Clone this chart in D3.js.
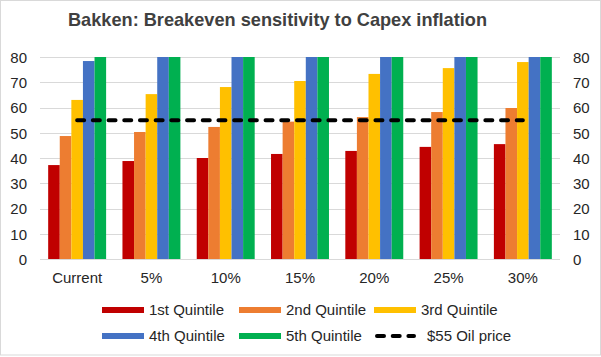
<!DOCTYPE html>
<html><head><meta charset="utf-8">
<script src="https://cdn.jsdelivr.net/npm/d3@7"></script>
<style>
html,body{margin:0;padding:0;background:#fff;}
svg{display:block;font-family:"Liberation Sans",Arial,sans-serif;}
</style></head>
<body><svg id="c" width="601" height="357"></svg>
<script>
const categories = ["Current","5%","10%","15%","20%","25%","30%"];
const seriesNames = ["1st Quintile","2nd Quintile","3rd Quintile","4th Quintile","5th Quintile"];
const q1 = [37.2, 38.8, 40.0, 41.6, 42.8, 44.4, 45.5];
const q2 = [48.7, 50.3, 52.3, 54.4, 56.2, 58.2, 59.8];
const q3 = [63.0, 65.3, 68.1, 70.5, 73.3, 75.6, 78.0];
const q4 = [78.4, 81.5, 84.5, 87.5, 90.5, 93.5, 96.5];
const q5 = [95, 99, 103, 107, 111, 115, 119];
const oilPrice = [55, 55, 55, 55, 55, 55, 55];
const oilName = "$55 Oil price";
const yTicks = [0,10,20,30,40,50,60,70,80];
const title = "Bakken: Breakeven sensitivity to Capex inflation";

const colors = ["#C00000","#ED7D31","#FFC000","#4472C4","#00B050"];
const series = [q1,q2,q3,q4,q5];

const svg = d3.select("#c");
const W = 601, H = 357;
svg.append("rect").attr("x",0.5).attr("y",0.5).attr("width",W-1).attr("height",H-2.5)
  .attr("fill","#fff").attr("stroke","#d9d9d9");

const L = 40, R = 560, T = 57, B = 259;
const x = d3.scaleBand().domain(categories).range([L,R]).paddingInner(0.22).paddingOuter(0.11);
const xs = d3.scaleBand().domain(d3.range(5)).range([0,x.bandwidth()]);
const y = d3.scaleLinear().domain([0,80]).range([B,T]).clamp(true);

// gridlines
svg.append("g").selectAll("line").data(yTicks).join("line")
  .attr("x1",L).attr("x2",R).attr("y1",d=>Math.round(y(d))+0.5).attr("y2",d=>Math.round(y(d))+0.5)
  .attr("stroke","#d9d9d9").attr("stroke-width",1);

// bars
series.forEach((s,i)=>{
  svg.append("g").selectAll("rect").data(s).join("rect")
    .attr("x",(d,j)=>x(categories[j])+xs(i))
    .attr("width",xs.bandwidth())
    .attr("y",d=>y(d))
    .attr("height",d=>y(0)-y(d))
    .attr("fill",colors[i]);
});

// oil line
const line = d3.line().x((d,j)=>x(categories[j])+x.bandwidth()/2).y(d=>y(d));
svg.append("path").datum(oilPrice).attr("d",line).attr("fill","none")
  .attr("stroke","#000").attr("stroke-width",4).attr("stroke-linecap","round")
  .attr("stroke-dasharray","7,8.7");

// axes
const yl = d3.axisLeft(y).tickValues(yTicks).tickSize(0).tickPadding(13);
const yr = d3.axisRight(y).tickValues(yTicks).tickSize(0).tickPadding(13);
const gl = svg.append("g").attr("transform",`translate(${L},0)`).call(yl);
const gr = svg.append("g").attr("transform",`translate(${R},0)`).call(yr);
const xa = d3.axisBottom(x).tickSize(0).tickPadding(13);
const gx = svg.append("g").attr("transform",`translate(0,${B})`).call(xa);
[gl,gr,gx].forEach(g=>{
  g.select(".domain").remove();
  g.selectAll("text").attr("font-family","'Liberation Sans',Arial,sans-serif")
   .attr("font-size",15).attr("fill","#262626");
});
gl.selectAll("text").attr("dy","0.35em");
gr.selectAll("text").attr("dy","0.35em");

// title
svg.append("text").attr("x",68).attr("y",26).text(title)
  .attr("font-size",19).attr("font-weight","bold").attr("fill","#404040")
  .attr("textLength",419).attr("lengthAdjust","spacingAndGlyphs");

// legend
const legItems = seriesNames.map((n,i)=>({name:n,color:colors[i],type:"bar"}));
legItems.push({name:oilName,type:"line"});
const legX = [102,239,374], legY = [310,336];
legItems.forEach((it,i)=>{
  const gx0 = legX[i%3], gy0 = legY[Math.floor(i/3)];
  const g = svg.append("g");
  if(it.type==="bar"){
    g.append("rect").attr("x",gx0).attr("y",gy0-3).attr("width",42).attr("height",6).attr("fill",it.color);
  } else {
    g.append("line").attr("x1",gx0+3).attr("x2",gx0+40).attr("y1",gy0).attr("y2",gy0)
      .attr("stroke","#000").attr("stroke-width",4).attr("stroke-linecap","round")
      .attr("stroke-dasharray","7,8.7");
  }
  g.append("text").attr("x",gx0+(it.type==="bar"?47:53)).attr("y",gy0).attr("dy","0.35em")
    .attr("font-size",15).attr("fill","#262626").text(it.name);
});
</script></body></html>
